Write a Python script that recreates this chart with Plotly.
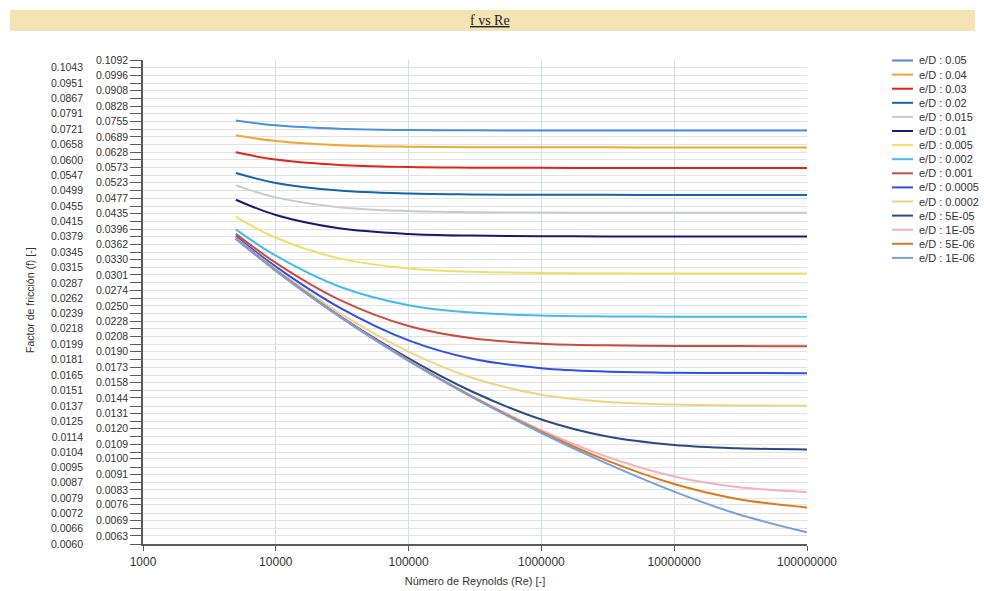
import plotly.graph_objects as go
import math

# ---------------- data ----------------
re_values = [5000, 10000, 30000, 100000, 300000, 1000000, 3000000, 10000000, 30000000, 100000000]

series_names = ["e/D : 0.05", "e/D : 0.04", "e/D : 0.03", "e/D : 0.02", "e/D : 0.015",
                "e/D : 0.01", "e/D : 0.005", "e/D : 0.002", "e/D : 0.001", "e/D : 0.0005",
                "e/D : 0.0002", "e/D : 5E-05", "e/D : 1E-05", "e/D : 5E-06", "e/D : 1E-06"]

series_colors = ["#4A90E2", "#F0A830", "#E2231A", "#1565AD", "#C6CBCE",
                 "#191970", "#F0E060", "#40BDEB", "#CD4B3F", "#2F4FE8",
                 "#F2D382", "#2A4B86", "#F4B0C0", "#DE7818", "#78A0DC"]

f_005 = [0.07595, 0.07380, 0.07231, 0.07178, 0.07163, 0.07157, 0.07155, 0.07155, 0.07155, 0.07155]
f_004 = [0.06957, 0.06720, 0.06553, 0.06493, 0.06476, 0.06470, 0.06468, 0.06467, 0.06467, 0.06467]
f_003 = [0.06280, 0.06011, 0.05818, 0.05748, 0.05728, 0.05720, 0.05718, 0.05717, 0.05717, 0.05717]
f_002 = [0.05548, 0.05227, 0.04991, 0.04903, 0.04877, 0.04868, 0.04865, 0.04864, 0.04864, 0.04864]
f_0015 = [0.05151, 0.04793, 0.04520, 0.04415, 0.04385, 0.04374, 0.04371, 0.04370, 0.04369, 0.04369]
f_001 = [0.04726, 0.04312, 0.03982, 0.03850, 0.03811, 0.03797, 0.03792, 0.03791, 0.03790, 0.03790]
f_0005 = [0.04261, 0.03763, 0.03325, 0.03131, 0.03069, 0.03047, 0.03040, 0.03038, 0.03037, 0.03037]
f_0002 = [0.03957, 0.03379, 0.02809, 0.02511, 0.02402, 0.02361, 0.02348, 0.02344, 0.02343, 0.02342]
f_0001 = [0.03850, 0.03238, 0.02597, 0.02217, 0.02060, 0.01994, 0.01974, 0.01967, 0.01965, 0.01964]
f_00005 = [0.03794, 0.03164, 0.02478, 0.02033, 0.01821, 0.01721, 0.01687, 0.01675, 0.01672, 0.01671]
f_00002 = [0.03762, 0.03119, 0.02402, 0.01900, 0.01625, 0.01468, 0.01408, 0.01384, 0.01377, 0.01374]
f_5em5 = [0.03745, 0.03096, 0.02361, 0.01826, 0.01497, 0.01265, 0.01146, 0.01086, 0.01065, 0.01058]
f_1em5 = [0.03740, 0.03090, 0.02351, 0.01804, 0.01457, 0.01187, 0.01017, 0.008996, 0.008441, 0.008188]
f_5em6 = [0.03740, 0.03089, 0.02350, 0.01802, 0.01452, 0.01176, 0.009954, 0.008600, 0.007861, 0.007471]
f_1em6 = [0.03739, 0.03089, 0.02349, 0.01799, 0.01447, 0.01167, 0.009770, 0.008213, 0.007181, 0.006432]

series_values = [f_005, f_004, f_003, f_002, f_0015, f_001, f_0005, f_0002, f_0001,
                 f_00005, f_00002, f_5em5, f_1em5, f_5em6, f_1em6]

y_labels_inner = ["0.1092", "0.0996", "0.0908", "0.0828", "0.0755", "0.0689", "0.0628", "0.0573",
                  "0.0523", "0.0477", "0.0435", "0.0396", "0.0362", "0.0330", "0.0301", "0.0274",
                  "0.0250", "0.0228", "0.0208", "0.0190", "0.0173", "0.0158", "0.0144", "0.0131",
                  "0.0120", "0.0109", "0.0100", "0.0091", "0.0083", "0.0076", "0.0069", "0.0063"]
y_labels_outer = ["0.1043", "0.0951", "0.0867", "0.0791", "0.0721", "0.0658", "0.0600", "0.0547",
                  "0.0499", "0.0455", "0.0415", "0.0379", "0.0345", "0.0315", "0.0287", "0.0262",
                  "0.0239", "0.0218", "0.0199", "0.0181", "0.0165", "0.0151", "0.0137", "0.0125",
                  "0.0114", "0.0104", "0.0095", "0.0087", "0.0079", "0.0072", "0.0066", "0.0060"]

x_tick_values = [1000, 10000, 100000, 1000000, 10000000, 100000000]
x_tick_labels = ["1000", "10000", "100000", "1000000", "10000000", "100000000"]

y_min, y_max = 0.0060, 0.1092
x_min, x_max = 1000, 100000000

title_text = "f vs Re"
x_title = "Número de Reynolds (Re) [-]"
y_title = "Factor de fricción (f) [-]"

# ---------------- layout geometry ----------------
W, H = 984, 591
ML, MR, MT, MB = 143, 177, 60, 47
PW, PH = W - ML - MR, H - MT - MB


def px_x(px):
    return (px - ML) / PW


def px_y(py):
    return (H - MB - py) / PH


FONT = "Liberation Sans, Arial, sans-serif"

fig = go.Figure()
for name, color, vals in zip(series_names, series_colors, series_values):
    fig.add_trace(go.Scatter(
        x=re_values, y=vals, mode="lines", name=name, showlegend=False,
        line=dict(color=color, width=2, shape="spline", smoothing=1.0),
    ))

# invisible trace to activate the second (label-only) y axis
fig.add_trace(go.Scatter(x=[re_values[0]], y=[series_values[0][0]], yaxis="y2",
                         mode="lines", opacity=0, showlegend=False, hoverinfo="skip"))

yr = [math.log10(y_min), math.log10(y_max)]

fig.update_layout(
    width=W, height=H,
    margin=dict(l=ML, r=MR, t=MT, b=MB, autoexpand=False),
    paper_bgcolor="white", plot_bgcolor="white",
    font=dict(family=FONT, color="#333333"),
    xaxis=dict(
        type="log", range=[math.log10(x_min), math.log10(x_max)],
        tickvals=x_tick_values, ticktext=x_tick_labels,
        tickfont=dict(size=12, color="#333333"),
        showgrid=True, gridcolor="#CFE0EA", gridwidth=1,
        showline=True, linecolor="#5A5A5A", linewidth=2,
        ticks="outside", ticklen=5, tickcolor="#5A5A5A", tickwidth=1,
        ticklabelstandoff=1, automargin=False,
        zeroline=False,
        title=dict(text=x_title, font=dict(size=11, color="#333333"), standoff=9),
    ),
    yaxis=dict(
        type="log", range=yr, automargin=False,
        tickvals=[float(v) for v in y_labels_inner + y_labels_outer],
        ticktext=y_labels_inner + [""] * len(y_labels_outer),
        tickfont=dict(size=10.5, color="#333333"),
        showgrid=True, gridcolor="#E2E2E2", gridwidth=1,
        showline=True, linecolor="#5A5A5A", linewidth=1.5,
        ticks="outside", ticklen=11, tickcolor="#5A5A5A", tickwidth=1,
        zeroline=False,
    ),
    yaxis2=dict(
        type="log", range=yr, overlaying="y", side="left", anchor="x", automargin=False,
        tickvals=[float(v) for v in y_labels_outer], ticktext=y_labels_outer,
        tickfont=dict(size=10.5, color="#333333"),
        showgrid=False, showline=False, ticks="", zeroline=False,
        ticklabelstandoff=59,
    ),
)

# title bar
fig.add_shape(type="rect", xref="paper", yref="paper",
              x0=px_x(10), x1=px_x(975), y0=px_y(31), y1=px_y(10),
              fillcolor="#F5E3B3", line=dict(width=0), layer="below")
fig.add_annotation(xref="paper", yref="paper", x=px_x(490), y=px_y(20),
                   text="<u>" + title_text + "</u>", showarrow=False,
                   font=dict(family="Liberation Serif, Times New Roman, serif", size=14, color="#222222"),
                   xanchor="center", yanchor="middle")

# y axis title
fig.add_annotation(xref="paper", yref="paper", x=px_x(30), y=px_y(300),
                   text=y_title, textangle=-90, showarrow=False,
                   font=dict(size=10.5, color="#333333"), xanchor="center", yanchor="middle")

# legend (compact, drawn from the series names and colours)
for i, (name, color) in enumerate(zip(series_names, series_colors)):
    py = 60.5 + i * 14.1
    fig.add_shape(type="line", xref="paper", yref="paper",
                  x0=px_x(892), x1=px_x(913), y0=px_y(py), y1=px_y(py),
                  line=dict(color=color, width=2))
    fig.add_annotation(xref="paper", yref="paper", x=px_x(917), y=px_y(py),
                       text=name, showarrow=False, xanchor="left", yanchor="middle",
                       font=dict(size=11, color="#333333"))

fig.write_html("out.html")
